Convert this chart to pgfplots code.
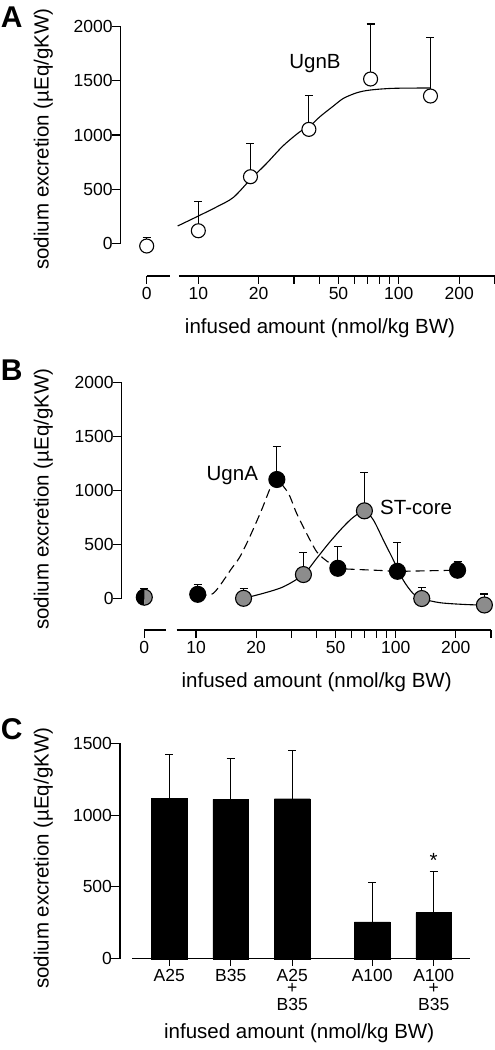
\documentclass[border=0pt]{standalone}
\usepackage{fontspec}
\setmainfont{Liberation Sans}
\usepackage{pgfplots}
\pgfplotsset{compat=1.18}
\definecolor{stgray}{HTML}{8C8C8C}
\pgfdeclareplotmark{halfbg}{%
  \pgfpathmoveto{\pgfqpoint{0pt}{\pgfplotmarksize}}%
  \pgfpatharc{90}{270}{\pgfplotmarksize}%
  \pgfpathclose
  \pgfsetfillcolor{black}\pgfusepathqfill
  \pgfpathmoveto{\pgfqpoint{0pt}{-\pgfplotmarksize}}%
  \pgfpatharc{-90}{90}{\pgfplotmarksize}%
  \pgfpathclose
  \pgfsetfillcolor{stgray}\pgfusepathqfill
  \pgfpathcircle{\pgfpointorigin}{\pgfplotmarksize}%
  \pgfusepathqstroke
}
\pgfplotsset{
  base/.style={scale only axis, clip=false, enlargelimits=false, anchor=south west,
    axis line style={line width=1.1pt, black},
    tick style={line width=1.1pt, black},
    major tick length=7.5pt, minor tick length=7.5pt,
    tick align=outside,
    ticklabel style={font=\fontsize{17.5}{21}\selectfont},
    /pgf/number format/assume math mode=true,
    /pgf/number format/1000 sep={},
    scaled ticks=false,
  },
  yonly/.style={base, axis x line=none, axis y line*=left, xmin=0, xmax=1, width=10pt,
    major tick length=8.5pt, yticklabel style={xshift=4pt}},
  xonly/.style={base, axis y line=none, axis x line*=bottom},
  ebar/.style={only marks, mark=none, forget plot, black, error bars/.cd, y dir=plus, y explicit,
    error bar style={line width=1.1pt, black},
    error mark options={rotate=90, line width=1.1pt, mark size=4pt, black}},
  opencirc/.style={only marks, mark=*, mark size=7pt, mark options={fill=white, draw=black, line width=1.1pt}},
  blackcirc/.style={only marks, mark=*, mark size=8pt, mark options={fill=black, draw=black, line width=1.1pt}},
  graycirc/.style={only marks, mark=*, mark size=8pt, mark options={fill=stgray, draw=black, line width=1.1pt}},
}
\newcommand{\lblfont}{\fontsize{20.5}{24}\selectfont}
\begin{document}
\begin{tikzpicture}
\path[use as bounding box] (0,0) rectangle (495pt,-1050pt);

% ---------------- Panel A ----------------
\node[font=\bfseries\fontsize{30}{30}\selectfont] at (11.7pt,-17.5pt) {A};
\node[rotate=90, font=\lblfont] at (43.3pt,-139pt) {sodium excretion (µEq/gKW)};
\node[anchor=base, font=\lblfont] at (320pt,-333pt) {infused amount (nmol/kg BW)};

\begin{axis}[yonly, at={(120.7pt,-243.3pt)}, height=216.6pt, ymin=0, ymax=2000,
  ytick={0,500,1000,1500,2000}]
\end{axis}

\begin{axis}[xonly, at={(146.7pt,-276pt)}, width=23.3pt, height=249.3pt,
  xmin=0, xmax=1, ymin=-301.9, ymax=2000, xtick={0}]
\addplot[ebar] coordinates {(0,-25) +- (0,80)};
\addplot[opencirc] coordinates {(0,-25)};
\end{axis}

\begin{axis}[xonly, xmode=log, at={(178.9pt,-276pt)}, width=315.6pt, height=249.3pt,
  xmin=8, xmax=300, ymin=-301.9, ymax=2000,
  xtick={10,20,50,100,200}, xticklabels={10,20,50,100,200},
  minor xtick={30,40,60,70,80,90,300}]
\addplot[smooth, line width=1.1pt, black] coordinates {
 (7.89,160) (10,252) (12.4,338) (14.96,424) (18.2,590) (21.9,738) (26.5,901)
 (32.1,1030) (36,1083) (40.4,1169) (47.1,1267) (52.9,1338) (61.7,1390)
 (71.8,1415) (93.9,1431) (143,1434)};
\addplot[ebar] coordinates {
 (10,116) +- (0,274)
 (18.2,615) +- (0,308)
 (35.6,1052) +- (0,314)
 (72.3,1517) +- (0,508)
 (143.8,1360) +- (0,542)};
\addplot[opencirc] coordinates {(10,116) (18.2,615) (35.6,1052) (72.3,1517) (143.8,1360)};
\node[anchor=base, font=\lblfont] at (axis cs:38.2,1615) {UgnB};
\end{axis}

% ---------------- Panel B ----------------
\node[font=\bfseries\fontsize{30}{30}\selectfont] at (11.7pt,-370pt) {B};
\node[rotate=90, font=\lblfont] at (43.3pt,-499pt) {sodium excretion (µEq/gKW)};
\node[anchor=base, font=\lblfont] at (316.7pt,-687.3pt) {infused amount (nmol/kg BW)};

\begin{axis}[yonly, at={(121.7pt,-598.3pt)}, height=216pt, ymin=0, ymax=2000,
  ytick={0,500,1000,1500,2000}]
\end{axis}

\begin{axis}[xonly, at={(144.3pt,-630pt)}, width=21.7pt, height=247.7pt,
  xmin=0, xmax=1, ymin=-293.5, ymax=2000, xtick={0}]
\addplot[ebar] coordinates {(0,10) +- (0,83)};
\addplot[only marks, mark=halfbg, mark size=8pt,
  mark options={draw=black, line width=1.1pt}] coordinates {(0,10)};
\end{axis}

\begin{axis}[xonly, xmode=log, at={(176.65pt,-630pt)}, width=314.35pt, height=247.7pt,
  xmin=8, xmax=300, ymin=-293.5, ymax=2000,
  xtick={10,20,50,100,200}, xticklabels={10,20,50,100,200},
  minor xtick={30,40,60,70,80,90,300}]
% UgnA dashed curve
\addplot[smooth, line width=1.1pt, black, dash pattern=on 9pt off 5pt] coordinates {
 (10.2,37) (12.2,46) (15.1,278) (16.6,385) (18.6,570) (21.3,818) (23.9,1049) (25.4,1100)
 (29.0,972) (31.9,787) (36.5,570) (40.2,431) (43.4,370) (46.9,324) (51.3,278)
 (59,270) (83.4,258) (102,250) (154,256) (204,260)};
% ST-core solid curve
\addplot[smooth, line width=1.1pt, black] coordinates {
 (17.3,0) (21.7,46) (27.4,107) (34.5,220) (40.2,370) (46.9,524) (54.7,663)
 (61.3,750) (69.7,810) (77.3,725) (86.7,540) (97.3,355) (109,169) (122,46)
 (135,-2) (167,-41) (227,-58) (278,-62)};
\addplot[ebar] coordinates {
 (10.2,37) +- (0,95)
 (25.4,1100) +- (0,304)
 (51.3,278) +- (0,203)
 (102,250) +- (0,270)
 (204,260) +- (0,85)};
\addplot[ebar] coordinates {
 (17.3,0) +- (0,93)
 (34.5,220) +- (0,208)
 (69.7,810) +- (0,355)
 (135,-2) +- (0,104)
 (278,-62) +- (0,102)};
\addplot[blackcirc] coordinates {(10.2,37) (25.4,1100) (51.3,278) (102,250) (204,260)};
\addplot[graycirc] coordinates {(17.3,0) (34.5,220) (69.7,810) (135,-2) (278,-62)};
\node[anchor=base, font=\lblfont] at (axis cs:15.2,1095) {UgnA};
\node[anchor=base, font=\lblfont] at (axis cs:126.5,780) {ST-core};
\end{axis}

% ---------------- Panel C ----------------
\node[font=\bfseries\fontsize{30}{30}\selectfont] at (11.7pt,-729pt) {C};
\node[rotate=90, font=\lblfont] at (43.3pt,-858.3pt) {sodium excretion (µEq/gKW)};
\node[anchor=base, font=\lblfont] at (299.2pt,-1038.3pt) {infused amount (nmol/kg BW)};

\begin{axis}[yonly, at={(120pt,-958.7pt)}, height=215.4pt, ymin=0, ymax=1500,
  ytick={0,500,1000,1500}]
\end{axis}

\begin{axis}[xonly, at={(132.3pt,-958.7pt)}, width=337.7pt, height=215.4pt,
  xmin=-0.6, xmax=4.89, ymin=0, ymax=1500,
  xtick={0,1,2,3.3,4.3},
  xticklabels={A25,B35,{A25\\[-9pt]+\\[-4pt]B35},A100,{A100\\[-9pt]+\\[-4pt]B35}},
  xticklabel style={align=center}]
\addplot[ybar, bar width=35.7pt, fill=black, draw=black,
  error bars/.cd, y dir=plus, y explicit,
  error bar style={line width=1.1pt, black},
  error mark options={rotate=90, line width=1.1pt, mark size=4pt, black}]
  coordinates {
 (0,1117) +- (0,307)
 (1,1110) +- (0,283)
 (2,1114) +- (0,335)
 (3.3,256) +- (0,276)
 (4.3,321) +- (0,285)};
\node[anchor=base, font=\lblfont] at (axis cs:4.3,632) {*};
\end{axis}
\end{tikzpicture}
\end{document}
